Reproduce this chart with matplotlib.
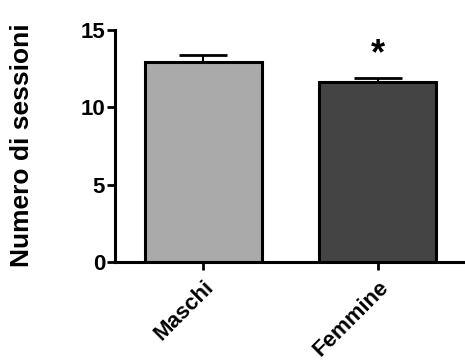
import matplotlib
matplotlib.use('Agg')
import matplotlib.pyplot as plt

# data
groups = ['Maschi', 'Femmine']
means = [12.9, 11.6]
sem = [0.45, 0.25]
colors = ['#aaaaaa', '#444444']
signif = ['', '*']

plt.rcParams['font.family'] = ['Liberation Sans', 'DejaVu Sans']
plt.rcParams['font.weight'] = 'bold'

fig = plt.figure(figsize=(4.65, 3.6), dpi=100)
ax = fig.add_axes([0.247, 0.271, 0.753, 0.647])

x = list(range(len(groups)))
ax.bar(x, means, width=0.67, color=colors, edgecolor='black', linewidth=2.2, zorder=2)
ax.errorbar(x, means, yerr=[[0] * len(sem), sem], fmt='none', ecolor='black',
            elinewidth=1.5, capsize=17, capthick=2, zorder=1)

for i, s in enumerate(signif):
    if s:
        ax.text(x[i], means[i] + sem[i] + 0.4, s, ha='center', va='bottom',
                fontsize=26, fontweight='bold')

ax.set_xlim(-0.505, 1.5)
ax.set_ylim(0, 15)
ax.set_yticks([0, 5, 10, 15])
ax.set_xticks(x)
ax.set_xticklabels(groups, rotation=45, ha='right', rotation_mode='anchor',
                   fontsize=16, fontweight='bold')
ax.tick_params(axis='y', labelsize=16, width=2, length=6, pad=1)
ax.tick_params(axis='x', width=2, length=6, pad=4)
for lab in ax.get_yticklabels():
    lab.set_fontweight('bold')

ax.spines['top'].set_visible(False)
ax.spines['right'].set_visible(False)
ax.spines['left'].set_linewidth(2.2)
ax.spines['bottom'].set_linewidth(2.2)

ax.set_ylabel('Numero di sessioni', fontsize=19, fontweight='bold')
ax.yaxis.set_label_coords(-0.232, 0.505)

fig.savefig('out.png', dpi=100)
